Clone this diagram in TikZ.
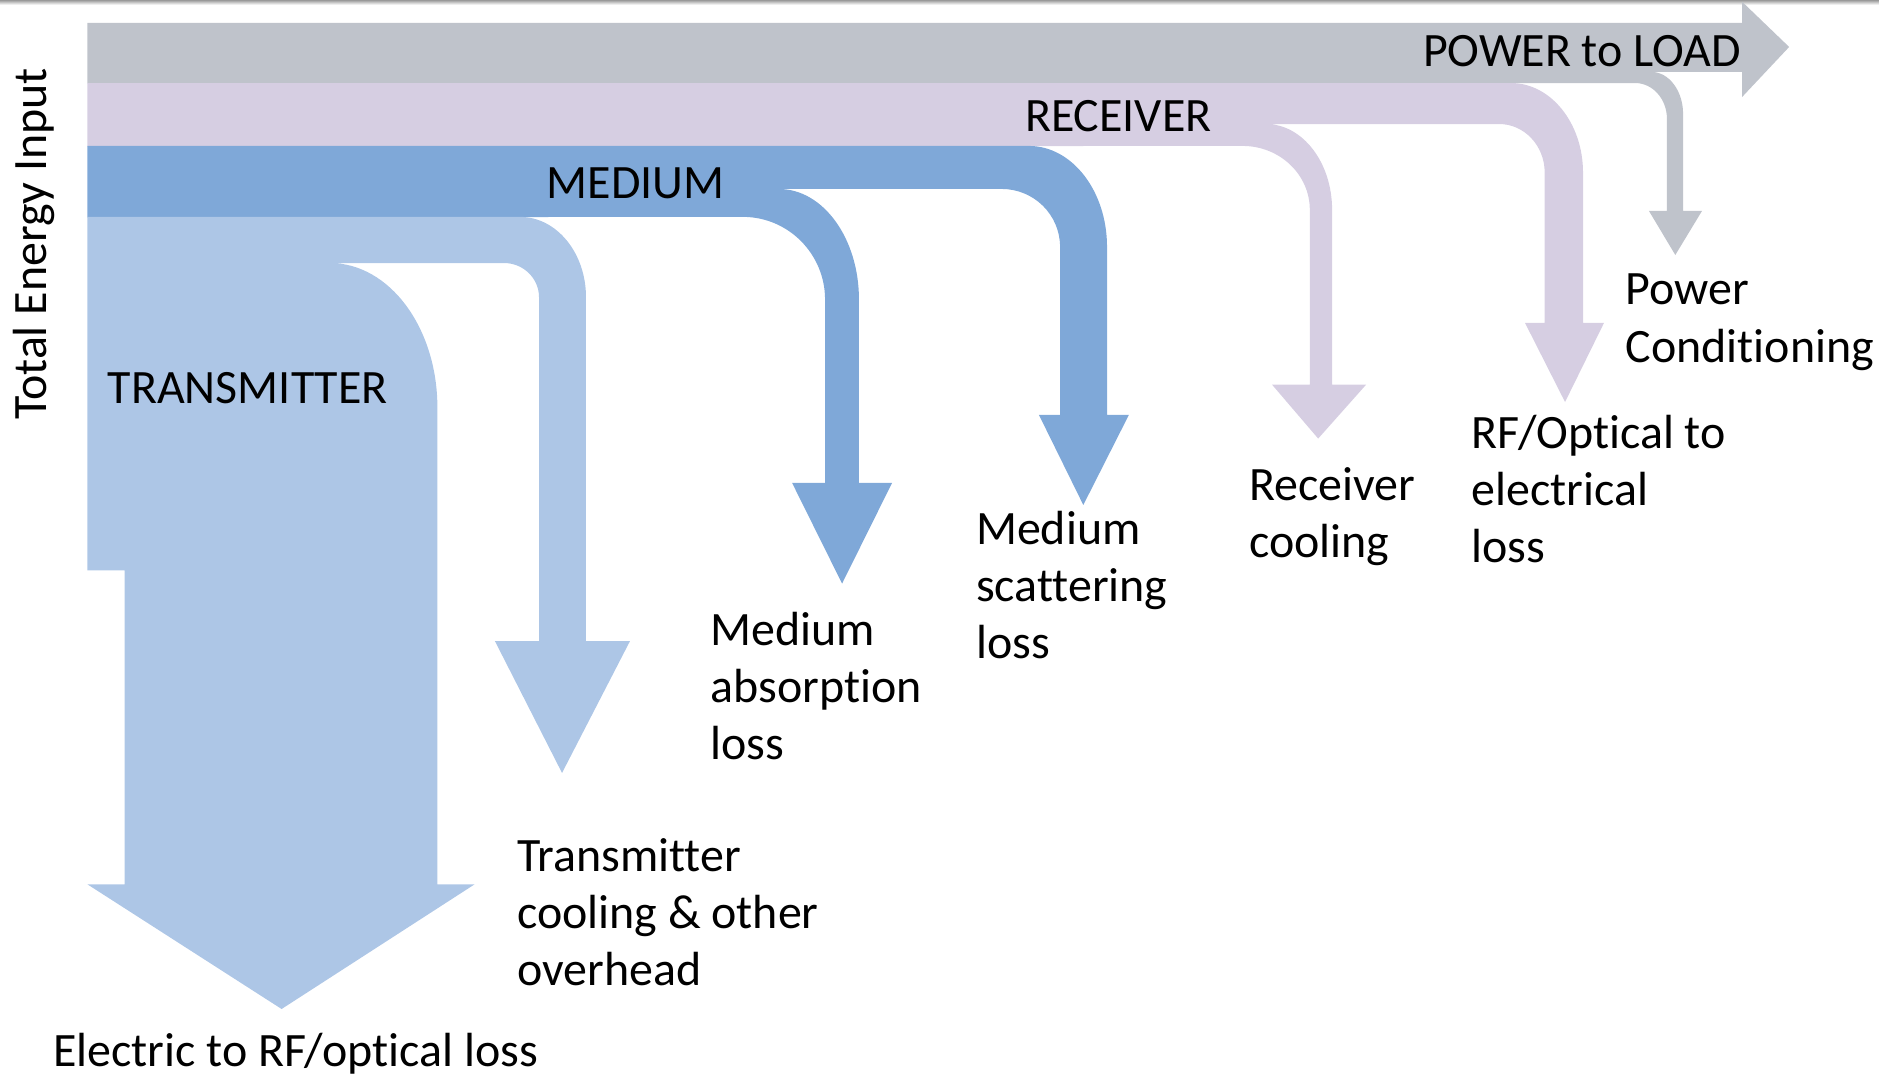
\documentclass[tikz,border=0pt]{standalone}
\usepackage{fontspec}
\setmainfont{Carlito}[Ligatures=NoCommon]
\definecolor{cgray}{HTML}{BFC3CB}
\definecolor{clilac}{HTML}{D6CEE2}
\definecolor{cmed}{HTML}{7FA8D8}
\definecolor{clight}{HTML}{ADC6E6}
\tikzset{
  lbl/.style={inner sep=0pt, outer sep=0pt, font=\fontsize{20}{23.8}\selectfont, text=black},
  mlbl/.style={lbl, align=left, anchor=base west},
}
\begin{document}
\begin{tikzpicture}[x=0.5pt,y=-0.5pt]
\useasboundingbox (0,0) rectangle (1568,897);
\shade[top color=black!40, bottom color=white] (0,0) rectangle (1568,4);
% gray: power to load
\fill[cgray] (73,19.2) -- (1453.7,19.2) -- (1453.7,1.4) -- (1493,39.2) -- (1453.7,81) -- (1453.7,60) -- (1378,60)
  .. controls +(14.6,0) and +(0,-19.3) .. (1404.5,95) -- (1404.5,176) -- (1420.3,176) -- (1398,212.8) -- (1376,176) -- (1391,176) -- (1391,99)
  .. controls +(0,-16.4) and +(14.6,0) .. (1364.5,69.3) -- (73,69.6) -- cycle;
% lilac: receiver
\fill[clilac] (73,69.3) -- (1261,69.3) .. controls +(33.1,0) and +(0,-41.2) .. (1321,144) -- (1321,269.5) -- (1338.5,269.5) -- (1306,335.5) -- (1272.6,269.5) -- (1289,269.5) -- (1289,144)
  .. controls +(0,-22.4) and +(21,0) .. (1251,103.5) -- (1056.5,103.5) .. controls +(30.4,0) and +(0,-39.5) .. (1111.6,175) -- (1111.6,321) -- (1140,321) -- (1100,366) -- (1061.5,321) -- (1093,321) -- (1093,175)
  .. controls +(0,-29.3) and +(30.9,0) .. (1037,121.8) -- (73,122.1) -- cycle;
% medium
\fill[cmed] (73,121.8) -- (858.7,121.8) .. controls +(36,0) and +(0,-46.5) .. (923.8,206) -- (923.8,346.3) -- (942,346.3) -- (904,421.4) -- (867,346.3) -- (884.6,346.3) -- (884.6,206)
  .. controls +(0,-26.7) and +(26.8,0) .. (836,157.7) -- (650,157.7) .. controls +(36.9,0) and +(0,-51) .. (716.8,250) -- (716.8,403) -- (744.4,403) -- (702.7,487) -- (661,403) -- (688.5,403) -- (688.5,250)
  .. controls +(0,-38.1) and +(37.8,0) .. (620,181) -- (73,181.3) -- cycle;
% light blue: transmitter
\fill[clight] (73,181) -- (434,181) .. controls +(30.4,0) and +(0,-37) .. (489,248) -- (489,535) -- (525.7,535) -- (469,645) -- (413,535) -- (449.8,535) -- (449.8,248)
  .. controls +(0,-15.7) and +(16.1,0) .. (420.6,219.5) -- (275.4,219.5) .. controls +(49.5,0) and +(0,-66.5) .. (365,340) -- (365,738) -- (396,738) -- (235,842) -- (73,738) -- (104,738) -- (104,476) -- (73,476) -- cycle;
% band labels
\node[lbl, anchor=base east] (pl) at (1453,55.6) {POWER to LOAD};
\node[lbl, anchor=base west] (rcv) at (855.4,110) {RECEIVER};
\node[lbl, anchor=base west] (med) at (456.3,166) {MEDIUM};
\node[lbl, anchor=base west] (tx) at (90,336.6) {TRANSMITTER};
\node[lbl, rotate=90, anchor=base] (tei) at (39,203.5) {Total Energy Input};
% loss labels (base anchor = baseline of last line)
\node[mlbl] (pc) at (1356.6,302.1) {Power\\Conditioning};
\node[mlbl] (rf) at (1228,469.2) {RF/Optical to\\electrical\\loss};
\node[mlbl] (rcl) at (1042.5,464.9) {Receiver\\cooling};
\node[mlbl] (msl) at (814.5,549.2) {Medium\\scattering\\loss};
\node[mlbl] (mal) at (593,634.2) {Medium\\absorption\\loss};
\node[mlbl] (tcl) at (431.6,822.6) {Transmitter\\cooling \& other\\overhead};
\node[mlbl] (el) at (44.5,889.6) {Electric to RF/optical loss};
\end{tikzpicture}
\end{document}
